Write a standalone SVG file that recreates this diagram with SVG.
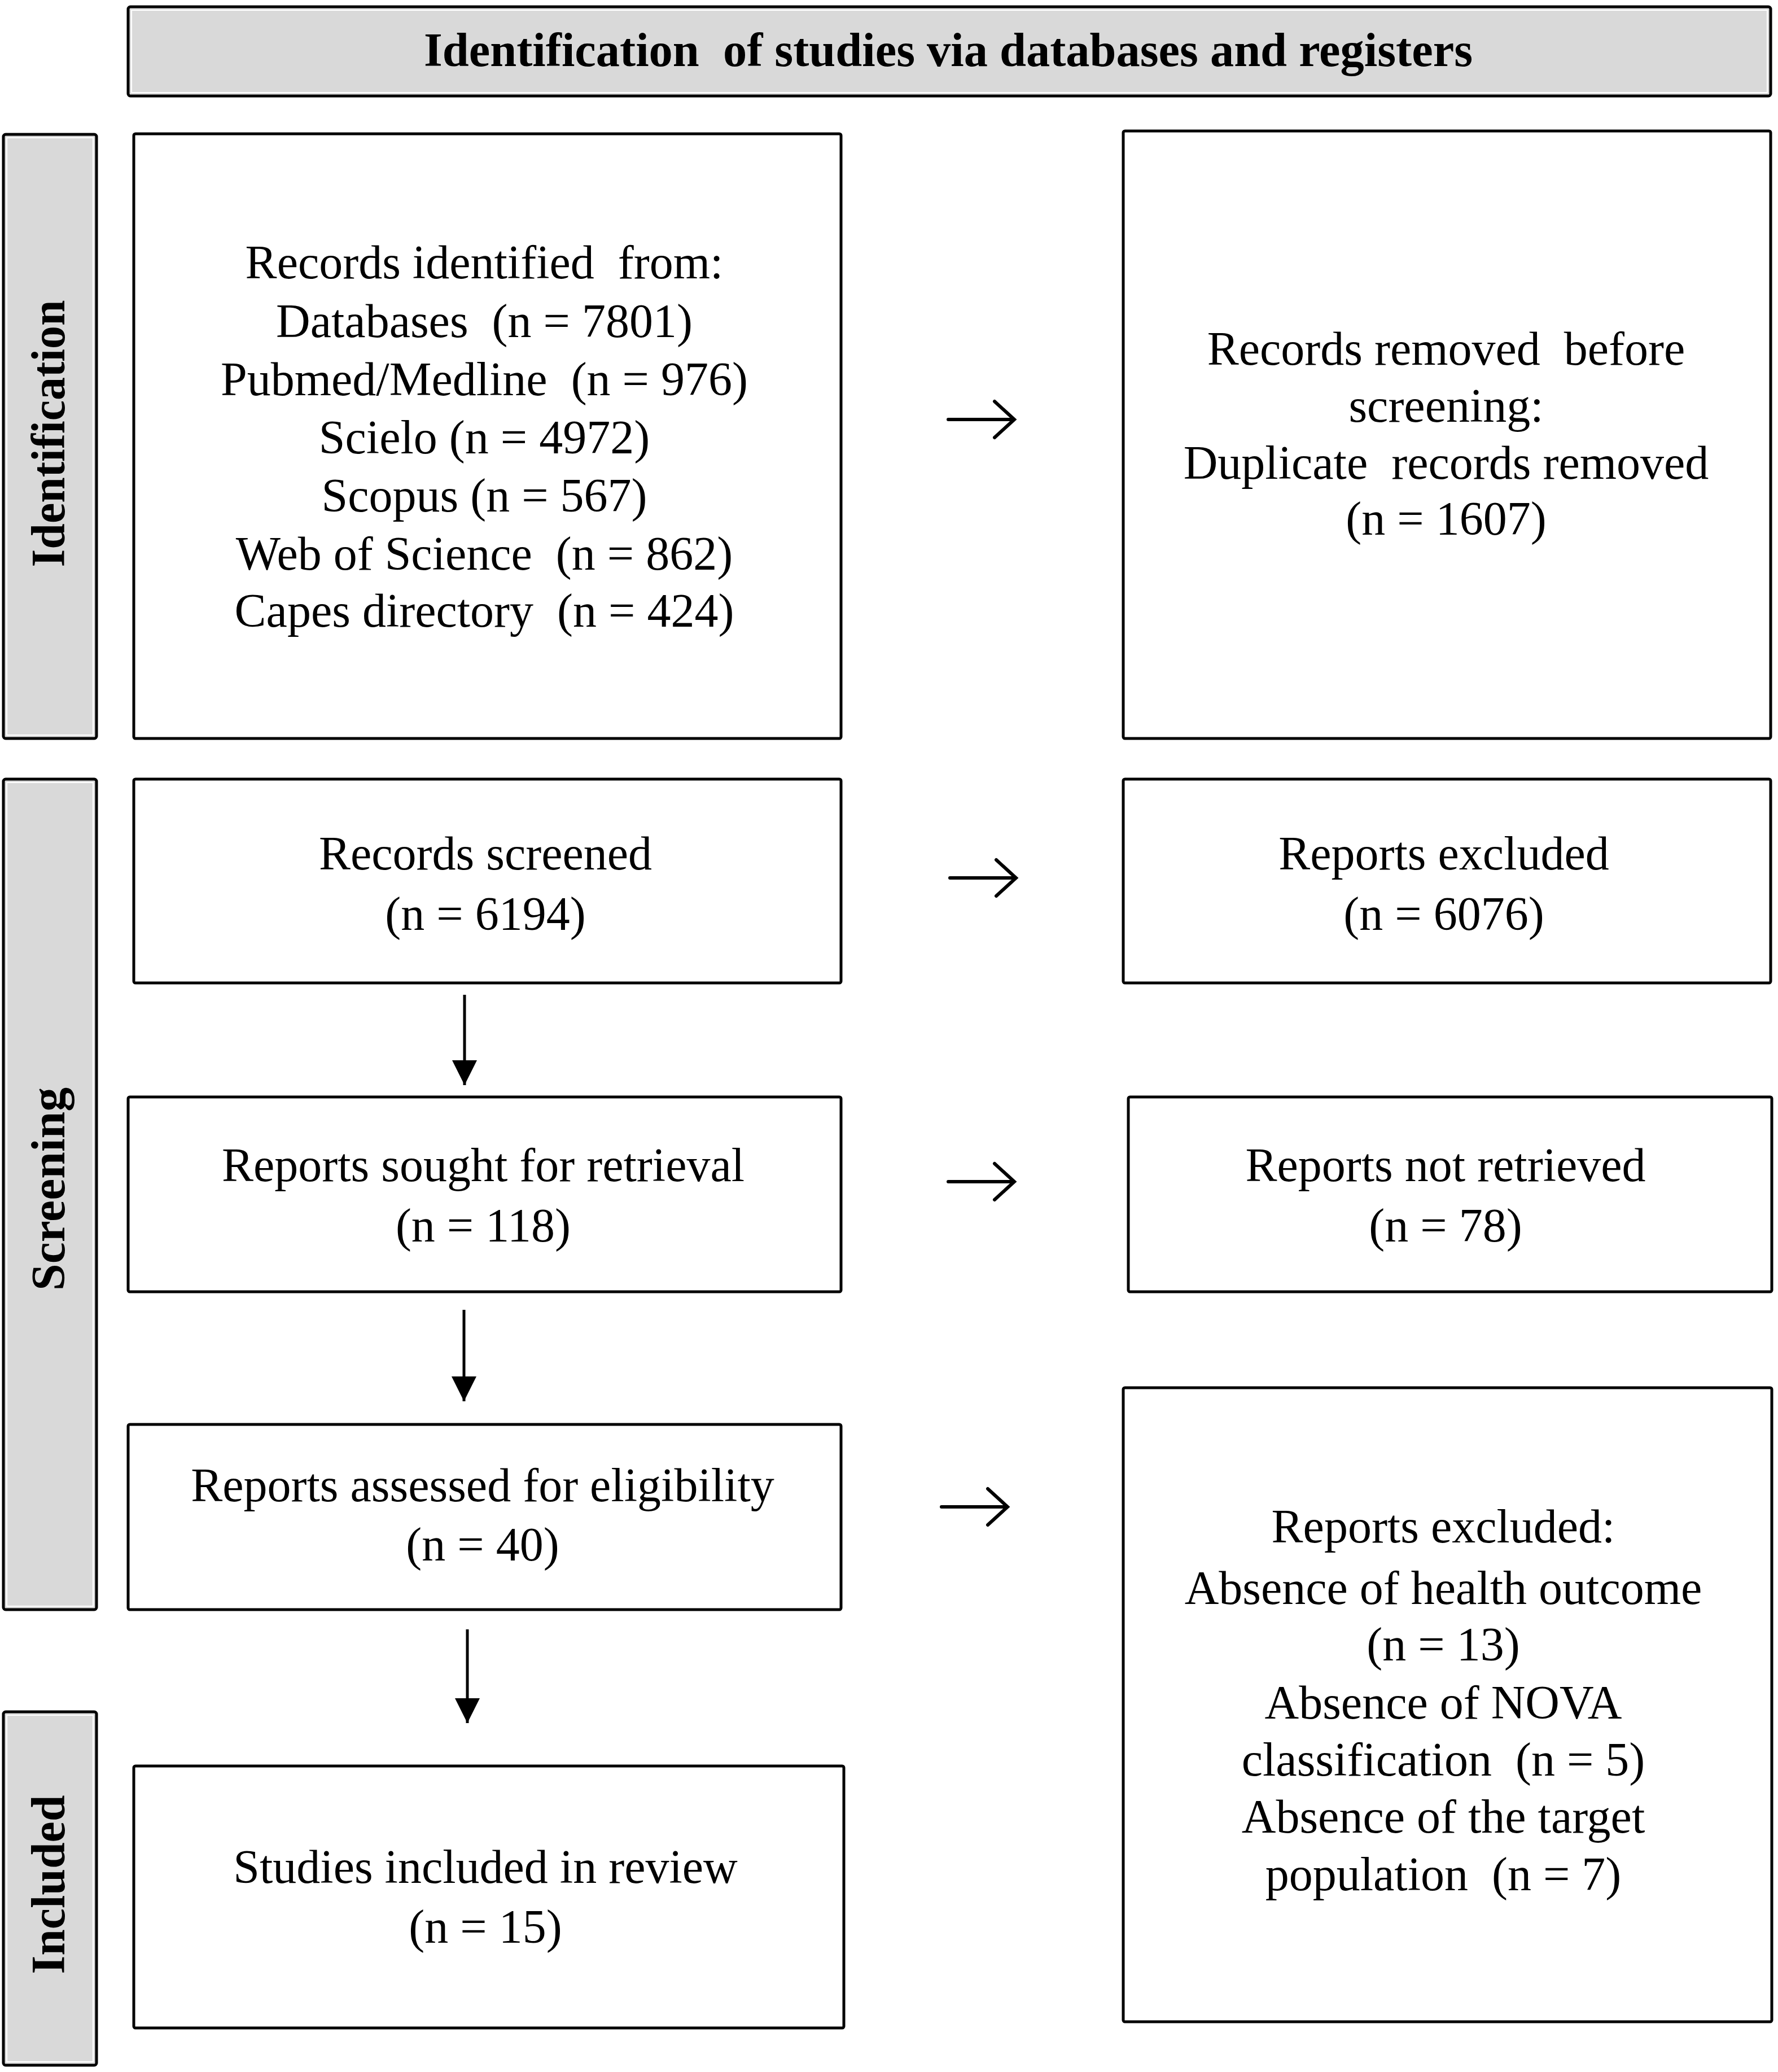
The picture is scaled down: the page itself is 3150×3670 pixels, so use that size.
<svg xmlns="http://www.w3.org/2000/svg" width="3150" height="3670" viewBox="0 0 3150 3670">
<defs>
<style>
.box{fill:#ffffff;stroke:#000000;stroke-width:5}
.bar{fill:#d9d9d9;stroke:#000000;stroke-width:5}
.hl{fill:none;stroke:#ffffff;stroke-width:2}
.t{font-family:"Liberation Serif","Times New Roman",serif;font-size:84px;fill:#000000;text-anchor:middle;white-space:pre}
.b{font-family:"Liberation Serif","Times New Roman",serif;font-size:84px;font-weight:bold;fill:#000000;text-anchor:middle;white-space:pre}
.ln{fill:none;stroke:#000000;stroke-width:5}
.ra{fill:none;stroke:#000000;stroke-width:6;stroke-linecap:round;stroke-linejoin:miter}
</style>
<marker id="dh" markerUnits="userSpaceOnUse" markerWidth="44" markerHeight="44" viewBox="0 0 40 40" refX="40" refY="20" orient="auto">
<path d="M0 0 L40 20 L0 40 Z" fill="#000000"/>
</marker>
</defs>
<rect width="3150" height="3670" fill="#ffffff"/>

<g id="header">
<rect class="bar" x="227" y="12" width="2910" height="158" rx="4"/>
<rect class="hl" x="233" y="18" width="2898" height="146"/>
<text class="b" x="1680" y="117" textLength="1858" lengthAdjust="spacingAndGlyphs">Identification  of studies via databases and registers</text>
</g>

<g id="stage-identification">
<rect class="bar" x="6" y="238" width="165" height="1070" rx="4"/>
<rect class="hl" x="12" y="244" width="153" height="1058"/>
<text class="b" transform="translate(114 768) rotate(-90)" x="0" y="0" textLength="473" lengthAdjust="spacingAndGlyphs">Identification</text>
</g>

<g id="stage-screening">
<rect class="bar" x="6" y="1380" width="165" height="1471" rx="4"/>
<rect class="hl" x="12" y="1386" width="153" height="1459"/>
<text class="b" transform="translate(114 2106) rotate(-90)" x="0" y="0" textLength="360" lengthAdjust="spacingAndGlyphs">Screening</text>
</g>

<g id="stage-included">
<rect class="bar" x="6" y="3032" width="165" height="626" rx="4"/>
<rect class="hl" x="12" y="3038" width="153" height="614"/>
<text class="b" transform="translate(114 3338) rotate(-90)" x="0" y="0" textLength="317" lengthAdjust="spacingAndGlyphs">Included</text>
</g>

<g id="records-identified">
<rect class="box" x="237" y="237" width="1253" height="1071" rx="3"/>
<text class="t" x="858" y="493">Records identified  from:</text>
<text class="t" x="858" y="597">Databases  (n = 7801)</text>
<text class="t" x="858" y="700">Pubmed/Medline  (n = 976)</text>
<text class="t" x="858" y="803">Scielo (n = 4972)</text>
<text class="t" x="858" y="906">Scopus (n = 567)</text>
<text class="t" x="858" y="1009">Web of Science  (n = 862)</text>
<text class="t" x="858" y="1110">Capes directory  (n = 424)</text>
</g>

<g id="records-removed">
<rect class="box" x="1990" y="232" width="1147" height="1076" rx="3"/>
<text class="t" x="2562" y="646">Records removed  before</text>
<text class="t" x="2562" y="747">screening:</text>
<text class="t" x="2562" y="848">Duplicate  records removed</text>
<text class="t" x="2562" y="947">(n = 1607)</text>
</g>

<g id="records-screened">
<rect class="box" x="237" y="1380" width="1253" height="361" rx="3"/>
<text class="t" x="860" y="1540">Records screened</text>
<text class="t" x="860" y="1647">(n = 6194)</text>
</g>

<g id="reports-excluded">
<rect class="box" x="1990" y="1380" width="1147" height="361" rx="3"/>
<text class="t" x="2558" y="1540">Reports excluded</text>
<text class="t" x="2558" y="1647">(n = 6076)</text>
</g>

<g id="reports-sought">
<rect class="box" x="227" y="1943" width="1263" height="345" rx="3"/>
<text class="t" x="856" y="2092">Reports sought for retrieval</text>
<text class="t" x="856" y="2199">(n = 118)</text>
</g>

<g id="reports-not-retrieved">
<rect class="box" x="1999" y="1943" width="1140" height="345" rx="3"/>
<text class="t" x="2561" y="2092">Reports not retrieved</text>
<text class="t" x="2561" y="2199">(n = 78)</text>
</g>

<g id="reports-assessed">
<rect class="box" x="227" y="2523" width="1263" height="328" rx="3"/>
<text class="t" x="855" y="2659">Reports assessed for eligibility</text>
<text class="t" x="855" y="2764">(n = 40)</text>
</g>

<g id="reports-excluded-reasons">
<rect class="box" x="1990" y="2458" width="1149" height="1123" rx="3"/>
<text class="t" x="2557" y="2732">Reports excluded:</text>
<text class="t" x="2557" y="2841">Absence of health outcome</text>
<text class="t" x="2557" y="2941">(n = 13)</text>
<text class="t" x="2557" y="3044">Absence of NOVA</text>
<text class="t" x="2557" y="3145">classification  (n = 5)</text>
<text class="t" x="2557" y="3246">Absence of the target</text>
<text class="t" x="2557" y="3348">population  (n = 7)</text>
</g>

<g id="studies-included">
<rect class="box" x="237" y="3128" width="1258" height="464" rx="3"/>
<text class="t" x="860" y="3335">Studies included in review</text>
<text class="t" x="860" y="3441">(n = 15)</text>
</g>

<g id="connectors">
<path class="ra" d="M1680 743 H1795 M1762 711 L1797 743 L1762 775"/>
<path class="ra" d="M1683 1555 H1798 M1765 1523 L1800 1555 L1765 1587"/>
<path class="ra" d="M1680 2093 H1795 M1762 2061 L1797 2093 L1762 2125"/>
<path class="ra" d="M1668 2669 H1783 M1750 2637 L1785 2669 L1750 2701"/>
<path class="ln" d="M823 1762 V1922" marker-end="url(#dh)"/>
<path class="ln" d="M822 2320 V2482" marker-end="url(#dh)"/>
<path class="ln" d="M828 2886 V3052" marker-end="url(#dh)"/>
</g>
</svg>
